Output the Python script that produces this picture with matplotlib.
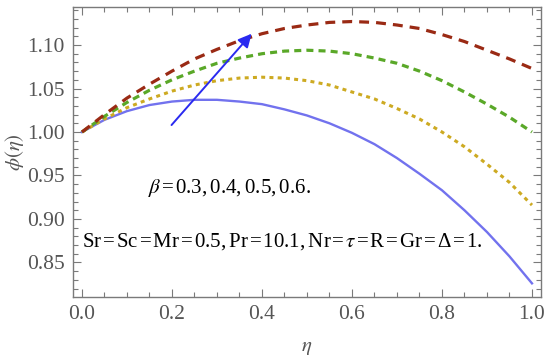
import numpy as np
import matplotlib.pyplot as plt
from matplotlib.ticker import MultipleLocator

# 讀圖估計的資料
eta = [0.0, 0.05, 0.1, 0.15, 0.2, 0.25, 0.3, 0.35, 0.4, 0.45, 0.5,
       0.55, 0.6, 0.65, 0.7, 0.75, 0.8, 0.85, 0.9, 0.95, 1.0]
phi_03 = [1.000, 1.014, 1.024, 1.031, 1.035, 1.037, 1.037, 1.035, 1.032, 1.026, 1.019,
          1.010, 0.999, 0.986, 0.970, 0.952, 0.933, 0.910, 0.885, 0.857, 0.826]
phi_04 = [1.000, 1.015, 1.028, 1.038, 1.047, 1.054, 1.059, 1.062, 1.063, 1.062, 1.059,
          1.054, 1.046, 1.038, 1.027, 1.015, 1.000, 0.983, 0.963, 0.942, 0.916]
phi_05 = [1.000, 1.018, 1.034, 1.048, 1.060, 1.070, 1.079, 1.085, 1.090, 1.093, 1.094,
          1.093, 1.090, 1.085, 1.079, 1.070, 1.059, 1.046, 1.032, 1.017, 1.000]
phi_06 = [1.000, 1.020, 1.039, 1.055, 1.070, 1.084, 1.095, 1.105, 1.113, 1.119, 1.123,
          1.126, 1.127, 1.126, 1.123, 1.119, 1.112, 1.104, 1.094, 1.084, 1.073]

# 箭頭起訖點
arrow_start = (0.199, 1.008)
arrow_end = (0.377, 1.113)

plt.rcParams['font.family'] = ['Liberation Serif', 'DejaVu Serif']
plt.rcParams['mathtext.fontset'] = 'stix'

fig = plt.figure(figsize=(5.5, 3.63), dpi=100)
ax = fig.add_axes([0.1327, 0.1818, 0.8509, 0.7989])

ax.plot(eta, phi_03, color='#7272ee', lw=1.7)
ax.plot(eta, phi_04, color='#cdaa22', lw=2.2, dashes=(1.3, 1.4))
ax.plot(eta, phi_05, color='#5aa828', lw=2.3, dashes=(2.2, 1.6))
ax.plot(eta, phi_06, color='#9a2a14', lw=2.3, dashes=(3.1, 2.2))

ax.annotate('', xy=arrow_end, xytext=arrow_start,
            arrowprops=dict(arrowstyle='-|>', color='#2a2af0', lw=1.4,
                            mutation_scale=20, shrinkA=0, shrinkB=0))

# 文字：Mathematica 在 = 與 , 旁有額外間距
sp = r'$\hspace{0.13}$'
eq = sp + '=' + sp
cm = ',' + r'$\hspace{0.22}$'
txt1 = r'$\beta$' + eq + cm.join(['0.3', '0.4', '0.5', '0.6.'])
txt2 = eq.join(['Sr', 'Sc', 'Mr', '0.5' + cm + 'Pr', '10.1' + cm + 'Nr',
                r'$\tau$', 'R', 'Gr', 'Δ', '1.'])
ax.text(0.147, 0.9356, txt1, fontsize=15, va='center', ha='left')
ax.text(0.0, 0.8736, txt2, fontsize=15, va='center', ha='left')

ax.set_xlim(-0.02, 1.02)
ax.set_ylim(0.8103, 1.1437)
ax.xaxis.set_major_locator(MultipleLocator(0.2))
ax.xaxis.set_minor_locator(MultipleLocator(0.05))
ax.yaxis.set_major_locator(MultipleLocator(0.05))
ax.yaxis.set_minor_locator(MultipleLocator(0.01))
ax.xaxis.set_major_formatter(plt.FuncFormatter(lambda v, p: f'{v:.1f}'))
ax.yaxis.set_major_formatter(plt.FuncFormatter(lambda v, p: f'{v:.2f}'))

grey = '#7a7a7a'
for s in ax.spines.values():
    s.set_color(grey)
    s.set_linewidth(1.0)
ax.tick_params(which='both', direction='in', top=True, right=True, color=grey,
               labelcolor='#555555', labelsize=15.5, width=0.8)
ax.tick_params(which='major', length=6, pad=6)
ax.tick_params(which='minor', length=3.5)

ax.set_xlabel(r'$\eta$', fontsize=15, color='#555555', labelpad=10)
ax.set_ylabel(r'$\phi(\eta)$', fontsize=15, color='#555555')
ax.yaxis.set_label_coords(-0.10, 0.5)

fig.savefig('out.png', dpi=100)
